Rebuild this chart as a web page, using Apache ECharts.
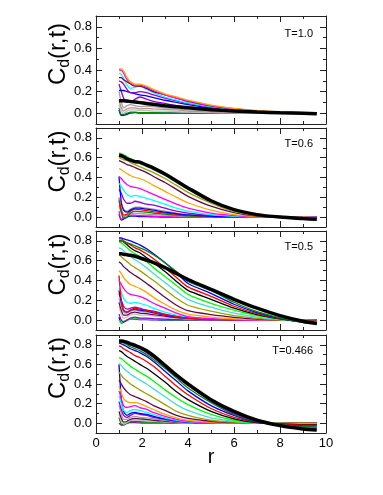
<!DOCTYPE html>
<html>
<head>
<meta charset="utf-8">
<script src="https://cdn.jsdelivr.net/npm/echarts@6/dist/echarts.min.js"></script>
<style>
  html, body { margin: 0; padding: 0; background: #fff; }
  #chart { width: 383px; height: 495px; }
</style>
</head>
<body>
<div id="chart"></div>
<script>
// r positions shared by every curve
const rValues = [1.0, 1.1, 1.2, 1.35, 1.5, 1.7, 1.9, 2.2, 2.5, 3.0, 3.5, 4.0, 5.0, 6.0, 7.0, 8.0, 9.0, 9.6];
const tempLabels = ['T=1.0', 'T=0.6', 'T=0.5', 'T=0.466'];
const yMajor = [0, 0.2, 0.4, 0.6, 0.8];
const yMinor = [0.1, 0.3, 0.5, 0.7];

// T = 1.0 (low curves first, thick black last)
const curvesT10 = [
  [0.03, -0.02, -0.02, -0.01, 0.0, 0.005, 0.0, 0.0, 0.0, 0.0, 0.0, 0.0, 0.0, 0.0, 0.0, 0.0, 0.0, 0.0],
  [0.05, -0.01, -0.01, 0.0, 0.01, 0.01, 0.005, 0.005, 0.005, 0.003, 0.0, 0.0, 0.0, 0.0, 0.0, 0.0, 0.0, 0.0],
  [0.08, 0.02, 0.0, 0.02, 0.03, 0.03, 0.025, 0.025, 0.02, 0.02, 0.015, 0.01, 0.005, 0.003, 0.0, 0.0, 0.0, 0.0],
  [0.12, 0.05, 0.02, 0.04, 0.05, 0.05, 0.04, 0.045, 0.04, 0.035, 0.03, 0.02, 0.012, 0.006, 0.003, 0.0, 0.0, 0.0],
  [0.20, 0.10, 0.05, 0.07, 0.08, 0.07, 0.06, 0.065, 0.06, 0.05, 0.04, 0.03, 0.02, 0.01, 0.005, 0.0, 0.0, 0.0],
  [0.27, 0.20, 0.14, 0.10, 0.10, 0.13, 0.15, 0.13, 0.11, 0.09, 0.07, 0.055, 0.035, 0.02, 0.01, 0.005, 0.0, 0.0],
  [0.21, 0.21, 0.21, 0.20, 0.19, 0.18, 0.17, 0.16, 0.145, 0.12, 0.10, 0.08, 0.05, 0.03, 0.015, 0.006, 0.002, 0.0],
  [0.30, 0.29, 0.27, 0.22, 0.19, 0.19, 0.20, 0.19, 0.17, 0.14, 0.115, 0.09, 0.055, 0.03, 0.015, 0.007, 0.002, 0.0],
  [0.37, 0.36, 0.32, 0.26, 0.23, 0.24, 0.25, 0.22, 0.19, 0.15, 0.12, 0.095, 0.06, 0.035, 0.018, 0.008, 0.003, 0.0],
  [0.33, 0.33, 0.31, 0.29, 0.27, 0.25, 0.25, 0.23, 0.20, 0.17, 0.14, 0.11, 0.068, 0.04, 0.02, 0.01, 0.004, 0.0],
  [0.40, 0.40, 0.37, 0.31, 0.28, 0.26, 0.26, 0.24, 0.21, 0.17, 0.14, 0.115, 0.07, 0.042, 0.022, 0.01, 0.004, 0.0],
  [0.41, 0.41, 0.39, 0.33, 0.29, 0.27, 0.27, 0.25, 0.22, 0.18, 0.15, 0.12, 0.075, 0.045, 0.025, 0.012, 0.005, 0.0],
  [0.115, 0.115, 0.115, 0.112, 0.108, 0.103, 0.098, 0.09, 0.082, 0.07, 0.06, 0.05, 0.033, 0.02, 0.01, 0.004, 0.0, -0.004]
];
const colorsT10 = ['#0000ff', '#008b00', '#c0c0c0', '#bc8f8f', '#a0a0a0', '#9400d3', '#0000ff', '#9400d3', '#00ffff', '#670748', '#ff00ff', '#ffa500', '#000000'];

// T = 0.6
const curvesT06 = [
  [0.03, -0.03, -0.02, 0.0, 0.01, 0.01, 0.005, 0.005, 0.003, 0.0, 0.0, 0.0, 0.0, 0.0, 0.0, 0.0, 0.0, 0.0],
  [0.06, -0.02, 0.0, 0.02, 0.02, 0.02, 0.015, 0.012, 0.01, 0.006, 0.003, 0.0, 0.0, 0.0, 0.0, 0.0, 0.0, 0.0],
  [0.12, 0.04, 0.0, 0.02, 0.03, 0.04, 0.035, 0.03, 0.025, 0.02, 0.012, 0.008, 0.003, 0.0, 0.0, 0.0, 0.0, 0.0],
  [0.17, 0.05, -0.01, 0.0, 0.04, 0.06, 0.055, 0.05, 0.04, 0.03, 0.02, 0.012, 0.005, 0.0, 0.0, 0.0, 0.0, 0.0],
  [0.19, 0.08, 0.02, 0.03, 0.06, 0.08, 0.075, 0.065, 0.055, 0.04, 0.028, 0.018, 0.007, 0.002, 0.0, 0.0, 0.0, 0.0],
  [0.20, 0.14, 0.08, 0.06, 0.08, 0.10, 0.10, 0.09, 0.08, 0.06, 0.04, 0.025, 0.01, 0.003, 0.0, 0.0, 0.0, 0.0],
  [0.28, 0.24, 0.18, 0.14, 0.14, 0.16, 0.15, 0.13, 0.12, 0.09, 0.06, 0.04, 0.015, 0.005, 0.0, 0.0, 0.0, 0.0],
  [0.41, 0.15, 0.07, 0.05, 0.07, 0.09, 0.09, 0.08, 0.07, 0.05, 0.035, 0.022, 0.008, 0.002, 0.0, 0.0, 0.0, 0.0],
  [0.34, 0.31, 0.27, 0.23, 0.21, 0.22, 0.21, 0.19, 0.17, 0.13, 0.09, 0.06, 0.025, 0.008, 0.0, 0.0, 0.0, 0.0],
  [0.41, 0.39, 0.36, 0.33, 0.31, 0.30, 0.29, 0.26, 0.23, 0.18, 0.13, 0.09, 0.04, 0.015, 0.003, 0.0, 0.0, 0.0],
  [0.49, 0.48, 0.46, 0.44, 0.42, 0.40, 0.39, 0.36, 0.32, 0.26, 0.20, 0.145, 0.07, 0.025, 0.005, 0.0, 0.0, -0.005],
  [0.57, 0.56, 0.55, 0.53, 0.52, 0.50, 0.48, 0.45, 0.41, 0.35, 0.28, 0.21, 0.11, 0.045, 0.01, 0.0, -0.005, -0.008],
  [0.60, 0.59, 0.58, 0.57, 0.55, 0.53, 0.51, 0.48, 0.45, 0.39, 0.32, 0.25, 0.14, 0.055, 0.015, 0.0, -0.008, -0.01],
  [0.63, 0.62, 0.61, 0.59, 0.57, 0.55, 0.54, 0.51, 0.48, 0.42, 0.35, 0.28, 0.155, 0.065, 0.02, 0.0, -0.01, -0.012],
  [0.645, 0.64, 0.63, 0.61, 0.59, 0.57, 0.56, 0.53, 0.50, 0.44, 0.37, 0.30, 0.165, 0.07, 0.02, 0.0, -0.01, -0.015],
  [0.625, 0.62, 0.61, 0.59, 0.575, 0.56, 0.555, 0.525, 0.495, 0.435, 0.365, 0.295, 0.165, 0.075, 0.025, 0.0, -0.015, -0.022]
];
const colorsT06 = ['#0000ff', '#ff00ff', '#bc8f8f', '#008b00', '#ff0000', '#a0a0a0', '#9400d3', '#0000ff', '#00ffff', '#ff00ff', '#ffa500', '#670748', '#a0a000', '#40e0d0', '#00ff00', '#000000'];

// T = 0.5
const curvesT05 = [
  [0.03, -0.03, -0.02, 0.0, 0.01, 0.01, 0.005, 0.005, 0.003, 0.0, 0.0, 0.0, 0.0, 0.0, 0.0, 0.0, 0.0, 0.0],
  [0.0, -0.03, -0.01, 0.0, 0.01, 0.015, 0.01, 0.01, 0.008, 0.005, 0.003, 0.0, 0.0, 0.0, 0.0, 0.0, 0.0, 0.0],
  [0.06, 0.0, -0.02, 0.0, 0.02, 0.03, 0.02, 0.02, 0.015, 0.01, 0.005, 0.003, 0.0, 0.0, 0.0, 0.0, 0.0, 0.0],
  [0.14, 0.06, 0.02, 0.03, 0.05, 0.06, 0.05, 0.05, 0.04, 0.03, 0.02, 0.01, 0.004, 0.0, 0.0, 0.0, 0.0, 0.0],
  [0.18, 0.10, 0.05, 0.05, 0.07, 0.08, 0.07, 0.065, 0.055, 0.04, 0.025, 0.015, 0.005, 0.0, 0.0, 0.0, 0.0, 0.0],
  [0.22, 0.14, 0.08, 0.07, 0.09, 0.10, 0.09, 0.08, 0.07, 0.05, 0.03, 0.02, 0.008, 0.002, 0.0, 0.0, 0.0, 0.0],
  [0.27, 0.20, 0.14, 0.11, 0.12, 0.13, 0.12, 0.10, 0.09, 0.06, 0.04, 0.025, 0.01, 0.003, 0.0, 0.0, 0.0, 0.0],
  [0.30, 0.18, 0.10, 0.08, 0.10, 0.11, 0.10, 0.09, 0.075, 0.05, 0.03, 0.02, 0.007, 0.0, 0.0, 0.0, 0.0, 0.0],
  [0.32, 0.28, 0.22, 0.18, 0.17, 0.18, 0.17, 0.15, 0.12, 0.08, 0.05, 0.03, 0.01, 0.003, 0.0, 0.0, 0.0, 0.0],
  [0.45, 0.20, 0.10, 0.08, 0.10, 0.12, 0.11, 0.10, 0.08, 0.055, 0.035, 0.02, 0.007, 0.0, 0.0, 0.0, 0.0, 0.0],
  [0.40, 0.36, 0.32, 0.28, 0.26, 0.25, 0.24, 0.21, 0.17, 0.12, 0.07, 0.035, 0.015, 0.005, 0.0, 0.0, 0.0, 0.0],
  [0.50, 0.47, 0.43, 0.39, 0.36, 0.34, 0.32, 0.28, 0.23, 0.16, 0.10, 0.06, 0.03, 0.012, 0.004, 0.0, 0.0, -0.005],
  [0.59, 0.57, 0.54, 0.51, 0.48, 0.45, 0.42, 0.37, 0.32, 0.23, 0.15, 0.095, 0.055, 0.028, 0.01, 0.0, -0.005, -0.008],
  [0.66, 0.64, 0.62, 0.59, 0.56, 0.53, 0.50, 0.45, 0.40, 0.31, 0.22, 0.15, 0.09, 0.045, 0.018, 0.0, -0.008, -0.012],
  [0.73, 0.72, 0.70, 0.67, 0.64, 0.61, 0.58, 0.53, 0.47, 0.38, 0.29, 0.21, 0.13, 0.07, 0.03, 0.005, -0.012, -0.018],
  [0.79, 0.78, 0.76, 0.73, 0.70, 0.67, 0.64, 0.59, 0.53, 0.44, 0.35, 0.26, 0.17, 0.10, 0.045, 0.01, -0.015, -0.022],
  [0.80, 0.80, 0.79, 0.76, 0.73, 0.70, 0.68, 0.63, 0.58, 0.49, 0.39, 0.30, 0.21, 0.12, 0.055, 0.012, -0.018, -0.028],
  [0.82, 0.82, 0.80, 0.78, 0.76, 0.73, 0.71, 0.67, 0.62, 0.53, 0.43, 0.335, 0.24, 0.14, 0.065, 0.015, -0.02, -0.032],
  [0.83, 0.83, 0.82, 0.81, 0.80, 0.78, 0.76, 0.72, 0.67, 0.58, 0.48, 0.37, 0.27, 0.16, 0.075, 0.018, -0.022, -0.036],
  [0.80, 0.80, 0.79, 0.78, 0.77, 0.75, 0.73, 0.70, 0.66, 0.58, 0.49, 0.39, 0.30, 0.18, 0.085, 0.022, -0.025, -0.04],
  [0.67, 0.67, 0.665, 0.66, 0.655, 0.645, 0.63, 0.605, 0.58, 0.53, 0.47, 0.41, 0.31, 0.21, 0.12, 0.045, -0.012, -0.035]
];
const colorsT05 = ['#0000ff', '#00ff00', '#9400d3', '#c0c0c0', '#670748', '#a0a0a0', '#9400d3', '#0000ff', '#00ffff', '#ff0000', '#ff00ff', '#ffa500', '#670748', '#a0a000', '#40e0d0', '#00ff00', '#000000', '#ff0000', '#0000ff', '#008b00', '#000000'];

// T = 0.466
const curvesT466 = [
  [0.0, -0.02, -0.01, 0.0, 0.005, 0.005, 0.003, 0.0, 0.0, 0.0, 0.0, 0.0, 0.0, 0.0, 0.0, 0.0, 0.0, 0.0],
  [0.06, -0.01, -0.02, 0.0, 0.015, 0.02, 0.015, 0.012, 0.01, 0.006, 0.003, 0.0, 0.0, 0.0, 0.0, 0.0, 0.0, 0.0],
  [0.09, 0.02, -0.01, 0.01, 0.03, 0.035, 0.03, 0.025, 0.02, 0.012, 0.006, 0.0, 0.0, 0.0, 0.0, 0.0, 0.0, 0.0],
  [0.12, 0.05, 0.01, 0.02, 0.04, 0.05, 0.045, 0.04, 0.03, 0.02, 0.01, 0.005, 0.0, 0.0, 0.0, 0.0, 0.0, 0.0],
  [0.18, 0.10, 0.04, 0.04, 0.06, 0.07, 0.06, 0.055, 0.045, 0.03, 0.015, 0.008, 0.0, 0.0, 0.0, 0.0, 0.0, 0.0],
  [0.22, 0.14, 0.08, 0.06, 0.08, 0.10, 0.09, 0.08, 0.06, 0.04, 0.02, 0.01, 0.0, 0.0, 0.0, 0.0, 0.0, 0.0],
  [0.60, 0.25, 0.12, 0.08, 0.10, 0.11, 0.10, 0.09, 0.07, 0.045, 0.025, 0.01, 0.0, 0.0, 0.0, 0.0, 0.0, 0.0],
  [0.28, 0.20, 0.13, 0.11, 0.13, 0.14, 0.13, 0.11, 0.09, 0.055, 0.03, 0.015, 0.003, 0.0, 0.0, 0.0, 0.0, 0.0],
  [0.33, 0.25, 0.18, 0.16, 0.17, 0.18, 0.16, 0.14, 0.11, 0.07, 0.04, 0.02, 0.005, 0.0, 0.0, 0.0, 0.0, 0.0],
  [0.38, 0.31, 0.25, 0.22, 0.21, 0.21, 0.20, 0.17, 0.14, 0.09, 0.055, 0.03, 0.01, 0.0, 0.0, 0.0, 0.0, 0.0],
  [0.44, 0.40, 0.36, 0.32, 0.29, 0.27, 0.25, 0.22, 0.18, 0.13, 0.08, 0.05, 0.02, 0.005, 0.0, 0.0, 0.0, 0.0],
  [0.52, 0.49, 0.46, 0.43, 0.40, 0.37, 0.34, 0.30, 0.26, 0.19, 0.12, 0.08, 0.03, 0.01, 0.0, 0.0, 0.0, 0.0],
  [0.61, 0.59, 0.56, 0.53, 0.50, 0.47, 0.44, 0.40, 0.35, 0.27, 0.19, 0.13, 0.055, 0.02, 0.0, -0.003, -0.005, -0.005],
  [0.67, 0.66, 0.64, 0.61, 0.58, 0.55, 0.52, 0.48, 0.43, 0.34, 0.26, 0.19, 0.09, 0.03, 0.003, -0.005, -0.01, -0.01],
  [0.74, 0.73, 0.71, 0.68, 0.66, 0.63, 0.60, 0.56, 0.51, 0.42, 0.32, 0.24, 0.12, 0.045, 0.005, -0.008, -0.015, -0.015],
  [0.79, 0.78, 0.76, 0.74, 0.72, 0.69, 0.67, 0.63, 0.58, 0.48, 0.38, 0.29, 0.15, 0.06, 0.008, -0.012, -0.02, -0.02],
  [0.82, 0.81, 0.80, 0.78, 0.76, 0.74, 0.72, 0.68, 0.63, 0.53, 0.43, 0.33, 0.18, 0.08, 0.01, -0.015, -0.03, -0.03],
  [0.83, 0.83, 0.82, 0.80, 0.78, 0.76, 0.74, 0.70, 0.65, 0.56, 0.46, 0.36, 0.21, 0.09, 0.015, -0.018, -0.035, -0.04],
  [0.84, 0.84, 0.83, 0.82, 0.80, 0.78, 0.76, 0.72, 0.67, 0.58, 0.48, 0.385, 0.225, 0.10, 0.02, -0.02, -0.045, -0.05],
  [0.84, 0.84, 0.835, 0.825, 0.81, 0.795, 0.775, 0.74, 0.69, 0.59, 0.49, 0.40, 0.24, 0.12, 0.03, -0.025, -0.06, -0.07]
];
const colorsT466 = ['#9400d3', '#008b00', '#c0c0c0', '#670748', '#a0a0a0', '#9400d3', '#0000ff', '#00ffff', '#ff00ff', '#ffa500', '#670748', '#a0a000', '#40e0d0', '#00ff00', '#000000', '#ff0000', '#0000ff', '#008b00', '#9400d3', '#000000'];

const panelCurves = [curvesT10, curvesT06, curvesT05, curvesT466];
const panelColors = [colorsT10, colorsT06, colorsT05, colorsT466];

// pixel layout of the four stacked frames
const frames = [
  { top: 16, height: 108 },
  { top: 128, height: 99 },
  { top: 231, height: 99 },
  { top: 335, height: 98 }
];

const FONT = '"Liberation Sans", Arial, Helvetica, sans-serif';
const FRAME = '#222';

const chart = echarts.init(document.getElementById('chart'), null, { renderer: 'canvas' });

const grid = [], xAxis = [], yAxis = [], series = [], graphic = [];

frames.forEach((f, p) => {
  grid.push({ left: 96, width: 230, top: f.top, height: f.height, outerBoundsMode: 'none', containLabel: false });
  const last = p === frames.length - 1;

  ['bottom', 'top'].forEach((pos) => {
    xAxis.push({
      gridIndex: p,
      type: 'value',
      position: pos,
      min: 0,
      max: 10,
      interval: 2,
      axisLine: { show: true, onZero: false, lineStyle: { color: FRAME, width: 1 } },
      axisTick: { show: true, inside: true, length: 6, lineStyle: { color: FRAME } },
      minorTick: { show: true, splitNumber: 2, length: 3, lineStyle: { color: FRAME } },
      axisLabel: { show: last && pos === 'bottom', margin: 4, color: '#000', fontSize: 13, fontFamily: FONT },
      splitLine: { show: false },
      minorSplitLine: { show: false },
      name: last && pos === 'bottom' ? 'r' : '',
      nameLocation: 'middle',
      nameGap: 14,
      nameMoveOverlap: false,
      nameTextStyle: { fontSize: 20, fontFamily: FONT, color: '#000' }
    });
  });

  ['left', 'right'].forEach((pos) => {
    yAxis.push({
      gridIndex: p,
      type: 'value',
      position: pos,
      min: -0.1,
      max: 0.9,
      axisLine: { show: true, onZero: false, lineStyle: { color: FRAME, width: 1 } },
      axisTick: { show: true, inside: true, length: 6, customValues: yMajor, lineStyle: { color: FRAME } },
      axisLabel: {
        show: pos === 'left',
        customValues: yMajor,
        formatter: (v) => v.toFixed(1),
        margin: 4,
        color: '#000',
        fontSize: 13,
        fontFamily: FONT
      },
      splitLine: { show: false },
      name: pos === 'left' ? '{m|C}{s|d}{m|(r,t)}' : '',
      nameLocation: 'middle',
      nameRotate: 90,
      nameGap: 23,
      nameMoveOverlap: false,
      nameTextStyle: {
        padding: [0, 0, 0, 32],
        rich: {
          m: { fontSize: 24, lineHeight: 30, fontFamily: FONT, color: '#000' },
          s: { fontSize: 16, lineHeight: 16, verticalAlign: 'bottom', fontFamily: FONT, color: '#000' }
        }
      }
    });
    yAxis.push({
      gridIndex: p,
      type: 'value',
      position: pos,
      min: -0.1,
      max: 0.9,
      axisLine: { show: false, onZero: false },
      axisTick: { show: true, inside: true, length: 3, customValues: yMinor, lineStyle: { color: FRAME } },
      axisLabel: { show: false },
      splitLine: { show: false }
    });
  });

  const curves = panelCurves[p];
  const colors = panelColors[p];
  curves.forEach((vals, i) => {
    const thick = i === curves.length - 1;
    series.push({
      type: 'line',
      xAxisIndex: 2 * p,
      yAxisIndex: 4 * p,
      data: rValues.map((r, k) => [r, vals[k]]),
      showSymbol: false,
      smooth: 0.25,
      silent: true,
      z: thick ? 5 : 2,
      lineStyle: { color: colors[i], width: thick ? 3.5 : 1.3 }
    });
  });

  graphic.push({
    type: 'text',
    right: 383 - 313,
    top: f.top + (p === 0 ? 12 : 10),
    style: { text: tempLabels[p], fontSize: 11, fontFamily: FONT, fill: '#000' }
  });
});

chart.setOption({
  animation: false,
  backgroundColor: '#fff',
  grid,
  xAxis,
  yAxis,
  series,
  graphic
});
</script>
</body>
</html>
